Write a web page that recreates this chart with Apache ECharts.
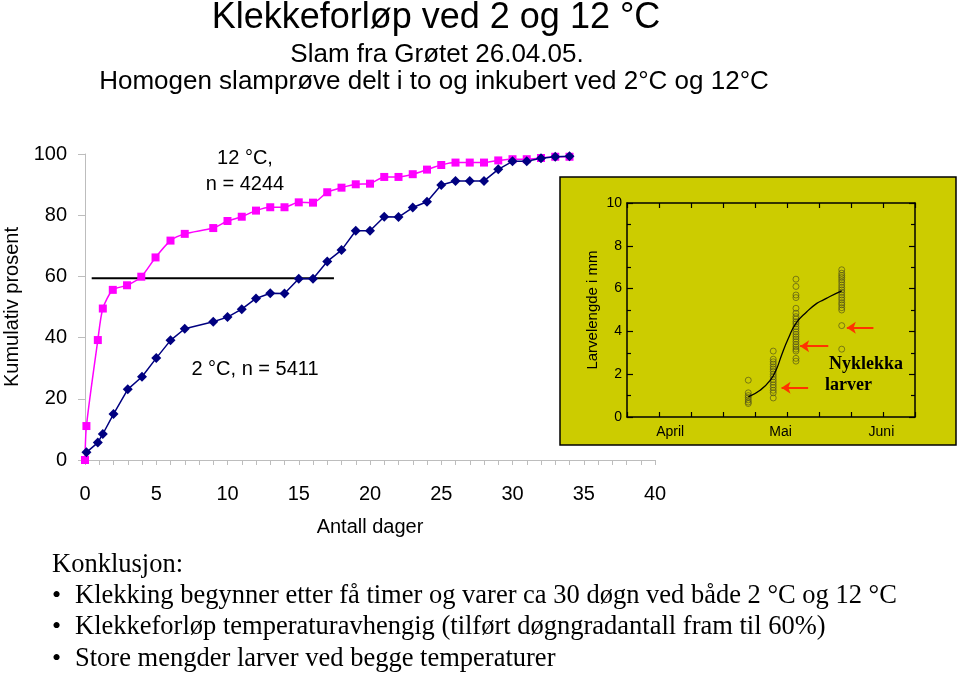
<!DOCTYPE html>
<html><head><meta charset="utf-8">
<script src="https://cdn.jsdelivr.net/npm/echarts@6/dist/echarts.min.js"></script>
<style>html,body{margin:0;padding:0;background:#fff}#c{width:960px;height:673px}</style>
</head><body><div id="c"></div>
<script>
// ---- text ----
const titleLines = ['Klekkeforløp ved 2 og 12 °C', 'Slam fra Grøtet 26.04.05.', 'Homogen slamprøve delt i to og inkubert ved 2°C og 12°C'];
const conclusionHead = 'Konklusjon:';
const conclusionLines = [
  'Klekking begynner etter få timer og varer ca 30 døgn ved både 2 °C og 12 °C',
  'Klekkeforløp temperaturavhengig (tilført døgngradantall fram til 60%)',
  'Store mengder larver ved begge temperaturer'
];
const label12 = ['12 °C,', 'n = 4244'];
const label2 = '2 °C, n = 5411';
const yAxisName = 'Kumulativ prosent';
const xAxisName = 'Antall dager';

// ---- main chart data ----
const days12 = [0, 0.1, 0.9, 1.25, 1.95, 2.95, 3.95, 4.95, 6, 7, 9, 10, 11, 12, 13, 14, 15, 16, 17, 18, 19, 20, 21, 22, 23, 24, 25, 26, 27, 28, 29, 30, 31, 32, 33, 34];
const pct12 = [0, 11.1, 39.2, 49.5, 55.6, 57.1, 59.9, 66.2, 71.7, 73.9, 75.8, 78.1, 79.5, 81.5, 82.6, 82.6, 84.2, 84.1, 87.5, 89.0, 90.1, 90.3, 92.5, 92.5, 93.4, 94.9, 96.4, 97.2, 97.2, 97.2, 97.9, 98.3, 98.3, 98.7, 99.1, 99.1];
const days2 = [0.1, 0.9, 1.25, 2, 3, 4, 5, 6, 7, 9, 10, 11, 12, 13, 14, 15, 16, 17, 18, 19, 20, 21, 22, 23, 24, 25, 26, 27, 28, 29, 30, 31, 32, 33, 34];
const pct2 = [2.5, 5.7, 8.5, 15.0, 23.1, 27.2, 33.3, 39.1, 42.9, 45.2, 46.7, 49.3, 52.8, 54.5, 54.4, 59.2, 59.2, 64.9, 68.6, 74.9, 74.9, 79.5, 79.4, 82.5, 84.4, 89.9, 91.2, 91.2, 91.2, 95.0, 97.6, 97.6, 98.6, 99.1, 99.3];
const refLineDays = [0.47, 17.47];
const refLinePct = 59.4;

// ---- inset data (larval length, mm) ----
const monthLabels = ['April', 'Mai', 'Juni'];
const monthLabelPos = [13.5, 48, 79.5];
const sampleDays = [37.9, 45.7, 52.8, 67.1];
const sampleLengths = [
  [1.72, 1.13, 1.0, 0.91, 0.8, 0.7, 0.63],
  [3.08, 2.7, 2.58, 2.47, 2.34, 2.24, 2.13, 2.0, 1.88, 1.75, 1.63, 1.5, 1.38, 1.25, 1.13, 0.89],
  [6.44, 6.1, 5.7, 5.58, 5.08, 4.85, 4.69, 4.58, 4.45, 4.35, 4.22, 4.11, 3.98, 3.86, 3.75, 3.64, 3.52, 3.39, 3.28, 3.17, 3.08, 2.74, 2.61],
  [6.88, 6.72, 6.61, 6.52, 6.41, 6.3, 6.17, 6.05, 5.94, 5.83, 5.7, 5.58, 5.47, 5.34, 5.24, 5.11, 5.0, 4.27, 3.17]
];
const curveDays = [37.9, 41.6, 44.8, 46.8, 48.3, 50.4, 52.8, 56.2, 59.3, 61.4, 63.4, 67.1];
const curveLengths = [0.94, 1.25, 1.72, 2.27, 2.89, 3.67, 4.38, 4.92, 5.31, 5.47, 5.63, 5.89];
const arrowY = [1.37, 3.31, 4.17];
const arrowTipX = [48.3, 54.1, 68.7];
const arrowTailX = [56.6, 62.9, 77];
const insetNote = ['Nyklekka', 'larver'];

const SANS = 'Liberation Sans, Arial, sans-serif';
const SERIF = 'Liberation Serif, Times New Roman, serif';

const scatterData = [];
sampleDays.forEach((d, i) => sampleLengths[i].forEach(v => scatterData.push([d, v])));
const arrowData = arrowY.map((y, i) => ({ coords: [[arrowTailX[i], y], [arrowTipX[i], y]] }));

const chart = echarts.init(document.getElementById('c'), null, { renderer: 'canvas' });

function txt(text, x, y, font, align, extra) {
  return Object.assign({ type: 'text', style: { text: text, x: x, y: y, textAlign: align || 'center', textVerticalAlign: 'middle', font: font, fill: '#000' } }, extra || {});
}
const graphics = [
  txt(titleLines[0], 436, 18, '36px ' + SANS),
  txt(titleLines[1], 437, 55, '26px ' + SANS),
  txt(titleLines[2], 434, 82, '26px ' + SANS),
  txt(label12[0], 245, 158, '20px ' + SANS),
  txt(label12[1], 245, 184, '20px ' + SANS),
  txt(label2, 255, 369, '20px ' + SANS),
  { type: 'rect', z: 0, shape: { x: 560, y: 177, width: 396, height: 268 }, style: { fill: '#CCCC00', stroke: '#000', lineWidth: 1.5 } },
  txt(insetNote[0], 829, 364, 'bold 18px ' + SERIF, 'left', { z: 20 }),
  txt(insetNote[1], 825, 385, 'bold 18px ' + SERIF, 'left', { z: 20 }),
  txt(conclusionHead, 52, 565, '26.5px ' + SERIF, 'left')
];
conclusionLines.forEach((t, i) => {
  const y = 596 + i * 31.5;
  graphics.push(txt('•', 52, y, '26px ' + SERIF, 'left'));
  graphics.push(txt(t, 75, y, '26.5px ' + SERIF, 'left'));
});

const insetAxisCommon = {
  z: 10,
  axisLine: { show: true, onZero: false, lineStyle: { color: '#000', width: 1.5 } },
  splitLine: { show: false }
};

const option = {
  animation: false,
  backgroundColor: '#fff',
  graphic: { elements: graphics },
  grid: [
    { left: 85, top: 154, width: 570, height: 306, containLabel: false, outerBoundsMode: 'none' },
    { left: 627, top: 203, width: 288, height: 214, z: 5, containLabel: false, outerBoundsMode: 'none' }
  ],
  xAxis: [
    {
      gridIndex: 0, type: 'value', min: 0, max: 40, interval: 5,
      name: xAxisName, nameLocation: 'middle', nameGap: 57,
      nameTextStyle: { fontFamily: SANS, fontSize: 20, color: '#000' },
      axisLine: { show: true, onZero: false, lineStyle: { color: '#bdbdbd', width: 1 } },
      axisTick: { show: true, length: 5, lineStyle: { color: '#bdbdbd' } },
      minorTick: { show: true, splitNumber: 5, length: 5, lineStyle: { color: '#bdbdbd' } },
      axisLabel: { margin: 24, fontFamily: SANS, fontSize: 20, color: '#000' },
      splitLine: { show: false }
    },
    Object.assign({}, insetAxisCommon, {
      gridIndex: 1, type: 'value', min: 0, max: 90, interval: 10, position: 'bottom',
      axisTick: { show: true, inside: true, length: 5, lineStyle: { color: '#000', width: 1.2 } },
      axisLabel: {
        show: true, customValues: monthLabelPos, margin: 8, fontFamily: SANS, fontSize: 14, color: '#000',
        formatter: v => { const i = monthLabelPos.indexOf(v); return i >= 0 ? monthLabels[i] : ''; }
      }
    }),
    Object.assign({}, insetAxisCommon, {
      gridIndex: 1, type: 'value', min: 0, max: 90, interval: 10, position: 'top',
      axisTick: { show: true, inside: true, length: 5, lineStyle: { color: '#000', width: 1.2 } },
      axisLabel: { show: false }
    })
  ],
  yAxis: [
    {
      gridIndex: 0, type: 'value', min: 0, max: 100, interval: 20,
      name: yAxisName, nameLocation: 'middle', nameGap: 62, nameRotate: 90,
      nameTextStyle: { fontFamily: SANS, fontSize: 20, color: '#000' },
      axisLine: { show: true, lineStyle: { color: '#bdbdbd', width: 1 } },
      axisTick: { show: true, length: 7, lineStyle: { color: '#bdbdbd' } },
      axisLabel: { margin: 18, fontFamily: SANS, fontSize: 20, color: '#000' },
      splitLine: { show: false }
    },
    Object.assign({}, insetAxisCommon, {
      gridIndex: 1, type: 'value', min: 0, max: 10, interval: 2, position: 'left',
      name: 'Larvelengde i mm', nameLocation: 'middle', nameGap: 27, nameRotate: 90,
      nameTextStyle: { fontFamily: SANS, fontSize: 15, color: '#000' },
      axisTick: { show: true, inside: true, length: 6, lineStyle: { color: '#000', width: 1.2 } },
      minorTick: { show: true, splitNumber: 2, length: 4, lineStyle: { color: '#000', width: 1.2 } },
      axisLabel: { margin: 5, fontFamily: SANS, fontSize: 14, color: '#000' }
    }),
    Object.assign({}, insetAxisCommon, {
      gridIndex: 1, type: 'value', min: 0, max: 10, interval: 2, position: 'right',
      axisTick: { show: true, inside: true, length: 6, lineStyle: { color: '#000', width: 1.2 } },
      minorTick: { show: true, splitNumber: 2, length: 4, lineStyle: { color: '#000', width: 1.2 } },
      axisLabel: { show: false }
    })
  ],
  series: [
    {
      type: 'line', xAxisIndex: 0, yAxisIndex: 0,
      data: days12.map((d, i) => [d, pct12[i]]),
      smooth: 0.25, symbol: 'rect', symbolSize: 8,
      lineStyle: { color: '#FF00FF', width: 1.5 }, itemStyle: { color: '#FF00FF' }
    },
    {
      type: 'line', xAxisIndex: 0, yAxisIndex: 0,
      data: days2.map((d, i) => [d, pct2[i]]),
      symbol: 'diamond', symbolSize: 10,
      lineStyle: { color: '#000080', width: 1.5 }, itemStyle: { color: '#000080' }
    },
    {
      type: 'line', xAxisIndex: 0, yAxisIndex: 0,
      data: refLineDays.map(d => [d, refLinePct]), symbol: 'none',
      lineStyle: { color: '#000', width: 2 }, z: 1
    },
    {
      type: 'scatter', xAxisIndex: 1, yAxisIndex: 1, z: 12,
      data: scatterData, symbol: 'circle', symbolSize: 6,
      itemStyle: { color: 'rgba(0,0,0,0)', borderColor: '#4a4a1a', borderWidth: 0.8 }
    },
    {
      type: 'line', xAxisIndex: 1, yAxisIndex: 1, z: 13,
      data: curveDays.map((d, i) => [d, curveLengths[i]]), smooth: 0.5, symbol: 'none',
      lineStyle: { color: '#000', width: 1.3 }
    },
    {
      type: 'lines', coordinateSystem: 'cartesian2d', xAxisIndex: 1, yAxisIndex: 1, z: 14,
      data: arrowData, symbol: ['none', 'arrow'], symbolSize: 9,
      lineStyle: { color: '#FF3300', width: 2, opacity: 1 }
    }
  ]
};
chart.setOption(option);
</script></body></html>
